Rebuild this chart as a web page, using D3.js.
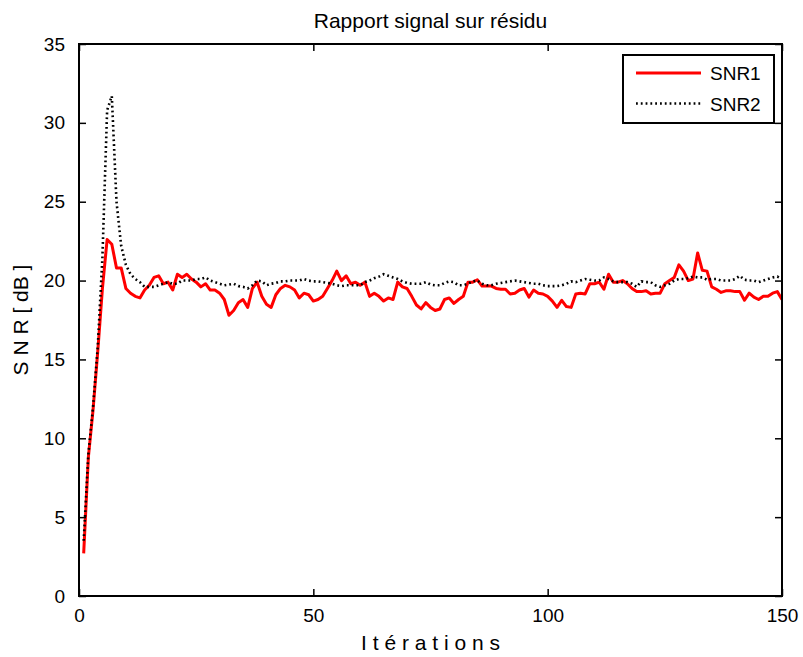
<!DOCTYPE html>
<html>
<head>
<meta charset="utf-8">
<script src="https://cdn.jsdelivr.net/npm/d3@7"></script>
<style>
  html, body { margin: 0; padding: 0; background: #fff; }
  svg { display: block; font-family: "Liberation Sans", Arial, sans-serif; }
</style>
</head>
<body>
<svg id="chart" width="803" height="657"></svg>
<script>
// Iteration index of each sample
const iterations = d3.range(1, 151);

// SNR1 (solid red), dB per iteration
const snr1 = [
  2.7, 8.8, 11.8, 15.5, 19.5, 22.6, 22.3, 20.8, 20.8, 19.5,
  19.2, 19.0, 18.9, 19.4, 19.7, 20.2, 20.3, 19.8, 19.9, 19.4,
  20.4, 20.2, 20.4, 20.1, 19.9, 19.6, 19.8, 19.4, 19.4, 19.2,
  18.8, 17.8, 18.1, 18.6, 18.8, 18.3, 19.5, 19.9, 19.0, 18.5,
  18.3, 19.1, 19.5, 19.7, 19.6, 19.4, 18.9, 19.2, 19.1, 18.7,
  18.8, 19.0, 19.5, 20.0, 20.6, 20.0, 20.3, 19.8, 19.9, 19.7,
  19.9, 19.0, 19.2, 19.0, 18.7, 18.9, 18.8, 19.9, 19.6, 19.5,
  19.0, 18.45, 18.2, 18.6, 18.3, 18.1, 18.2, 18.8, 18.9, 18.55,
  18.8, 19.0, 19.9, 19.9, 20.05, 19.65, 19.65, 19.65, 19.5, 19.45,
  19.45, 19.15, 19.2, 19.4, 19.5, 18.95, 19.4, 19.2, 19.15, 19.0,
  18.7, 18.3, 18.75, 18.35, 18.3, 19.15, 19.2, 19.15, 19.8, 19.8,
  19.9, 19.45, 20.4, 19.9, 19.9, 20.0, 19.8, 19.5, 19.3, 19.3,
  19.35, 19.15, 19.2, 19.2, 19.8, 20.0, 20.2, 21.0, 20.6, 20.0,
  20.1, 21.75, 20.65, 20.6, 19.6, 19.45, 19.25, 19.35, 19.35, 19.3,
  19.3, 18.75, 19.2, 18.95, 18.8, 19.0, 19.0, 19.2, 19.3, 18.8
];

// SNR2 (dotted black), dB per iteration
const snr2 = [
  3.5, 9.0, 12.0, 15.8, 21.5, 30.8, 31.7, 25.0, 22.2, 21.0,
  20.4, 20.1, 19.9, 19.6, 19.6, 19.6, 19.7, 19.8, 19.9, 19.8,
  19.8, 20.0, 20.0, 20.0, 20.1, 20.1, 20.2, 20.0, 19.9, 19.8,
  19.7, 19.75, 19.8, 19.65, 19.6, 19.5, 19.7, 20.0, 19.95, 19.7,
  19.8, 19.85, 19.95, 19.95, 20.0, 20.0, 20.0, 20.1, 20.0, 19.95,
  19.95, 19.9, 19.85, 19.8, 19.7, 19.65, 19.7, 19.7, 19.7, 19.7,
  19.9, 20.0, 20.15, 20.25, 20.4, 20.3, 20.2, 20.1, 19.95, 19.85,
  19.8, 19.8, 19.8, 19.9, 19.75, 19.7, 19.7, 19.85, 19.95, 19.9,
  19.7, 19.7, 19.8, 19.95, 20.0, 19.8, 19.7, 19.7, 19.8, 19.85,
  19.9, 19.95, 20.0, 19.95, 19.9, 19.85, 19.8, 19.8, 19.7, 19.65,
  19.65, 19.65, 19.7, 19.8, 19.95, 19.9, 20.0, 20.1, 20.05, 20.0,
  20.0, 20.2, 20.1, 19.95, 19.9, 19.9, 19.9, 19.8, 19.6, 19.95,
  19.9, 19.9, 19.7, 19.6, 19.7, 19.8, 20.0, 20.1, 20.1, 20.15,
  20.25, 20.2, 20.2, 20.05, 20.1, 20.1, 20.0, 20.0, 20.0, 20.1,
  20.3, 20.05, 20.0, 20.0, 19.9, 20.0, 20.1, 20.2, 20.25, 20.1
];

const xTicks = [0, 50, 100, 150];
const yTicks = [0, 5, 10, 15, 20, 25, 30, 35];
const seriesNames = ["SNR1", "SNR2"];

const margin = { left: 79, right: 21, top: 44, bottom: 61 };
const W = 803, H = 657;
const iw = W - margin.left - margin.right;
const ih = H - margin.top - margin.bottom;

const svg = d3.select("#chart");
const g = svg.append("g").attr("transform", `translate(${margin.left},${margin.top})`);

const x = d3.scaleLinear().domain([0, 150]).range([0, iw]);
const y = d3.scaleLinear().domain([0, 35]).range([ih, 0]);

const FONT = 19;       // tick labels and legend
const LABEL_FONT = 21; // title and axis labels
const TICK = 7;

const RED_W = 3, DOT_W = 2.6, DOT_DASH = "1.8,3";

g.append("defs").append("clipPath").attr("id", "plotclip")
  .append("rect").attr("width", iw).attr("height", ih);

// Series lines
const line = vals => d3.line()
  .x((d, i) => x(iterations[i]))
  .y(d => y(d))(vals);

const plot = g.append("g").attr("clip-path", "url(#plotclip)");
plot.append("path")
  .attr("d", line(snr1))
  .attr("fill", "none")
  .attr("stroke", "#ff0000")
  .attr("stroke-width", RED_W)
  .attr("stroke-linejoin", "round");

plot.append("path")
  .attr("d", line(snr2))
  .attr("fill", "none")
  .attr("stroke", "#000")
  .attr("stroke-width", DOT_W)
  .attr("stroke-dasharray", DOT_DASH);

// Axes: ticks point inward, mirrored on all four sides
const axB = d3.axisBottom(x).tickValues(xTicks).tickSize(-TICK).tickPadding(TICK + 6).tickFormat(d3.format("d"));
const axT = d3.axisTop(x).tickValues(xTicks).tickSize(-TICK).tickFormat("");
const axL = d3.axisLeft(y).tickValues(yTicks).tickSize(-TICK).tickPadding(TICK + 7).tickFormat(d3.format("d"));
const axR = d3.axisRight(y).tickValues(yTicks).tickSize(-TICK).tickFormat("");

function style(sel) {
  sel.select(".domain").remove();
  sel.selectAll(".tick line").attr("stroke", "#000").attr("stroke-width", 1.5);
  sel.selectAll(".tick text").attr("fill", "#000").style("font-size", FONT + "px")
    .style("font-family", "'Liberation Sans', Arial, sans-serif");
}
g.append("g").attr("transform", `translate(0,${ih})`).call(axB).call(style);
g.append("g").call(axT).call(style);
g.append("g").call(axL).call(style);
g.append("g").attr("transform", `translate(${iw},0)`).call(axR).call(style);

// Plot frame
g.append("rect")
  .attr("width", iw).attr("height", ih)
  .attr("fill", "none").attr("stroke", "#000").attr("stroke-width", 2);

// Title and axis labels
svg.append("text")
  .attr("x", margin.left + iw / 2).attr("y", 28)
  .attr("text-anchor", "middle")
  .style("font-size", LABEL_FONT + "px")
  .text("Rapport signal sur résidu");

svg.append("text")
  .attr("x", margin.left + iw / 2).attr("y", 650)
  .attr("text-anchor", "middle")
  .style("font-size", LABEL_FONT + "px")
  .text("I t é r a t i o n s");

svg.append("text")
  .attr("transform", `translate(28,${margin.top + ih / 2}) rotate(-90)`)
  .attr("text-anchor", "middle")
  .style("font-size", LABEL_FONT + "px")
  .text("S N R [ dB ]");

// Legend
const lg = svg.append("g").attr("transform", "translate(623,55)");
lg.append("rect").attr("width", 151).attr("height", 68)
  .attr("fill", "#fff").attr("stroke", "#000").attr("stroke-width", 2);

const legendStyles = [
  { stroke: "#ff0000", width: RED_W, dash: null },
  { stroke: "#000", width: DOT_W, dash: DOT_DASH }
];
seriesNames.forEach((name, i) => {
  const yy = 18 + i * 30.5;
  lg.append("line")
    .attr("x1", 13).attr("x2", 78).attr("y1", yy).attr("y2", yy)
    .attr("stroke", legendStyles[i].stroke)
    .attr("stroke-width", legendStyles[i].width)
    .attr("stroke-dasharray", legendStyles[i].dash);
  lg.append("text")
    .attr("x", 87).attr("y", yy + 7)
    .style("font-size", FONT + "px")
    .text(name);
});
</script>
</body>
</html>
